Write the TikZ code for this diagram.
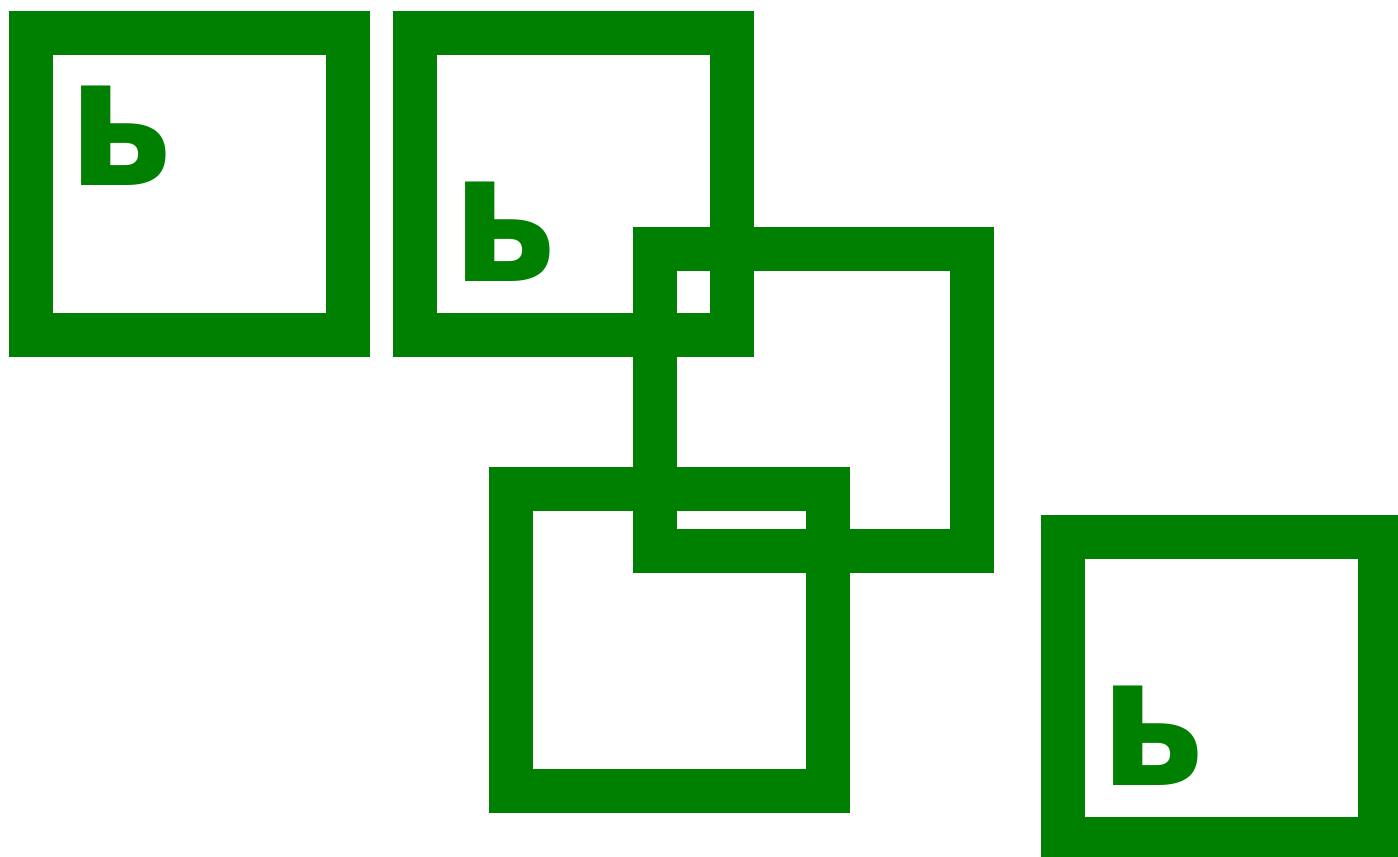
\documentclass[tikz,border=0pt]{standalone}
\usepackage{fontspec}
\newfontfamily\glyphfont{DejaVu Sans}[BoldFont={DejaVu Sans Bold}]
\definecolor{boxgreen}{RGB}{0,128,0}
\tikzset{
  frame/.style={draw=boxgreen, line width=44pt, minimum width=317pt, minimum height=302pt, inner sep=0pt, outer sep=0pt, anchor=north west},
  softsign/.style={text=boxgreen, inner sep=0pt, anchor=base west, font=\glyphfont\bfseries\fontsize{182}{182}\selectfont}
}
\newcommand{\softglyph}{\scalebox{0.92}[1]{ь}}
\begin{document}
\begin{tikzpicture}[x=1pt,y=-1pt]
\useasboundingbox (0,0) rectangle (1398,857);
\node[frame] (b1) at (31,33) {};
\node[frame] (b2) at (415,33) {};
\node[frame] (b3) at (655,249) {};
\node[frame] (b4) at (511,489) {};
\node[frame] (b5) at (1063,537) {};
\node[softsign] (s1) at (67,185) {\softglyph};
\node[softsign] (s2) at (451,281) {\softglyph};
\node[softsign] (s5) at (1099,785) {\softglyph};
\end{tikzpicture}
\end{document}
